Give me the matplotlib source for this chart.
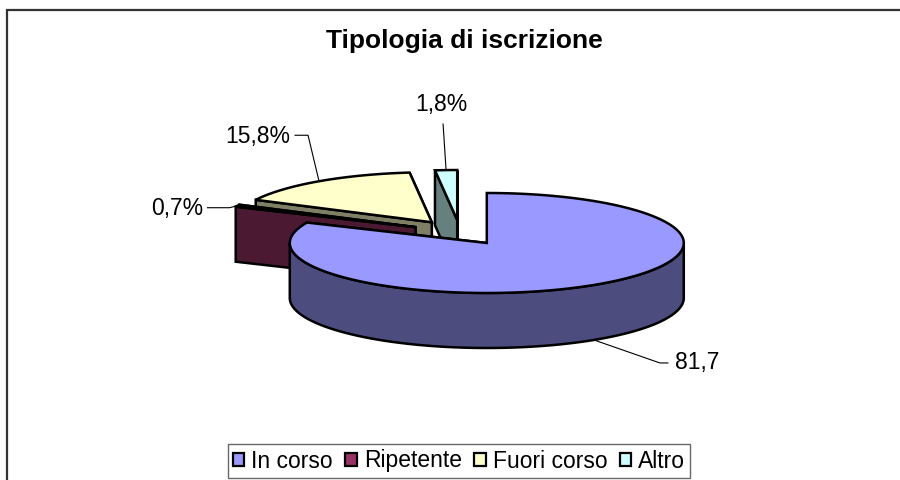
"""Torta 3D esplosa stile Excel: tipologia di iscrizione."""

import numpy as np
import matplotlib

matplotlib.use("Agg")
import matplotlib.pyplot as plt
from matplotlib.patches import Polygon, Patch

plt.rcParams["font.family"] = ["Liberation Sans", "DejaVu Sans"]

# dati
title = "Tipologia di iscrizione"
categories = ["In corso", "Ripetente", "Fuori corso", "Altro"]
shares = [81.7, 0.7, 15.8, 1.8]
value_labels = ["81,7", "0,7%", "15,8%", "1,8%"]

# stile
top_colors = ["#9999FF", "#993366", "#FFFFCC", "#CCFFFF"]
side_colors = ["#4C4C7F", "#4C1933", "#7F7F66", "#667F7F"]

CX, CY = 460.0, 232.5   # centro torta [px]
RX, RY = 197.0, 50.0    # semiassi dell'ellisse
DEPTH = 55.0            # spessore
EXPLODE = 0.25          # esplosione (frazione del raggio)
LW = 1.8

# leader: gomito relativo al punto sul bordo, coda orizzontale, testo
leader_elbow = [(66, 23), (-8, 2), (-11, -46), (-3, -46)]
leader_tail = [8, -22, -13, 0]
text_offset = [(7, 6), (-4, 7), (-5, 8), (-2, -13)]
text_ha = ["left", "right", "right", "center"]


def pt(a, ox, oy, z=0.0):
    """Punto sul bordo: a in gradi, orario dalle ore 12; z verso il basso."""
    r = np.deg2rad(a)
    return ox + RX * np.sin(r), oy - RY * np.cos(r) + z


def arc(a0, a1, ox, oy, z=0.0):
    n = max(int(abs(a1 - a0)), 2) + 1
    aa = np.linspace(a0, a1, n)
    xs, ys = pt(aa, ox, oy, z)
    return list(zip(xs, ys))


fig = plt.figure(figsize=(9.0, 4.8), dpi=100)
ax = fig.add_axes([0, 0, 1, 1])
ax.set_xlim(0, 900)
ax.set_ylim(480, 0)
ax.axis("off")

total = float(np.sum(shares))
span = np.array(shares) / total * 360.0
starts = np.concatenate([[0.0], np.cumsum(span)[:-1]])
mids = starts + span / 2

# dalle fette in fondo a quelle davanti
order = sorted(range(len(shares)), key=lambda i: -np.cos(np.deg2rad(mids[i])))

anchors = {}
for i in order:
    a0, a1, m = starts[i], starts[i] + span[i], mids[i]
    ox = CX + EXPLODE * RX * np.sin(np.deg2rad(m))
    oy = CY - EXPLODE * RY * np.cos(np.deg2rad(m))
    kw = dict(edgecolor="black", lw=LW, joinstyle="miter")

    faces = []
    for a, vis in ((a0, np.sin(np.deg2rad(a0)) < -1e-9), (a1, np.sin(np.deg2rad(a1)) > 1e-9)):
        poly = [(ox, oy), pt(a, ox, oy), pt(a, ox, oy, DEPTH), (ox, oy + DEPTH)]
        faces.append((vis, poly))
    for vis, poly in sorted(faces, key=lambda f: f[0]):
        ax.add_patch(Polygon(poly, closed=True, facecolor=side_colors[i], **kw))

    lo, hi = max(a0, 90.0), min(a1, 270.0)
    if hi > lo:
        side = arc(lo, hi, ox, oy) + arc(hi, lo, ox, oy, DEPTH)
        ax.add_patch(Polygon(side, closed=True, facecolor=side_colors[i], **kw))

    top = [(ox, oy)] + arc(a0, a1, ox, oy)
    ax.add_patch(Polygon(top, closed=True, facecolor=top_colors[i], **kw))

    front = np.cos(np.deg2rad(m)) < 0
    anchors[i] = pt(m, ox, oy, DEPTH if front else 0.0)

# etichette con linee guida
for i, lab in enumerate(value_labels):
    x0, y0 = anchors[i]
    ex, ey = x0 + leader_elbow[i][0], y0 + leader_elbow[i][1]
    tx = ex + leader_tail[i]
    ax.plot([x0, ex, tx], [y0, ey, ey], color="black", lw=0.8, zorder=5)
    ax.text(tx + text_offset[i][0], ey + text_offset[i][1], lab, fontsize=16.5,
            ha=text_ha[i], va="baseline", zorder=6)

ax.text(464, 48, title, fontsize=19, fontweight="bold", ha="center", va="baseline")

# bordo dell'area grafico (solo sopra e a sinistra visibili)
ax.plot([7, 7, 900], [480, 10, 10], color="#333333", lw=1.6, solid_joinstyle="miter")

handles = [Patch(facecolor=c, edgecolor="black", lw=1.6) for c in top_colors]
leg = ax.legend(handles, categories, loc="center", bbox_to_anchor=(459 / 900, 1 - 461 / 480),
                ncol=4, fontsize=16.5, frameon=True, fancybox=False, borderpad=0.22,
                handlelength=0.5, handleheight=0.5, handletextpad=0.3,
                columnspacing=0.55, borderaxespad=0)
leg.get_frame().set_edgecolor("#444444")
leg.get_frame().set_linewidth(1.0)

fig.savefig("out.png", dpi=100)
